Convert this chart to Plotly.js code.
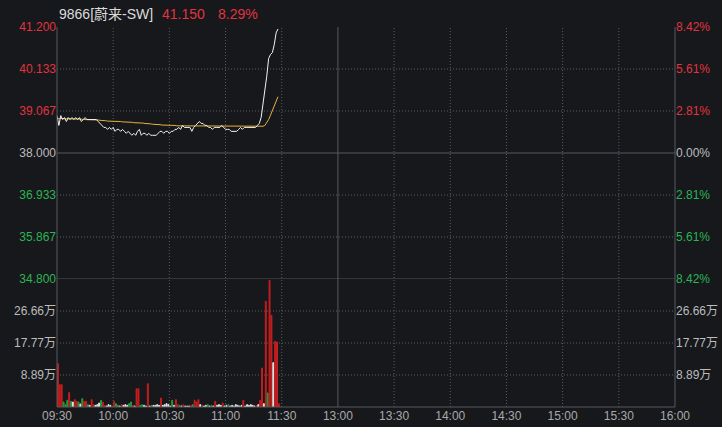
<!DOCTYPE html>
<html><head><meta charset="utf-8">
<script src="https://cdn.plot.ly/plotly-3.0.1.min.js"></script>
<style>html,body{margin:0;padding:0;background:#17181c;overflow:hidden}#chart{width:722px;height:427px;}</style>
</head><body><div id="chart"></div>
<script>
const stockName = "9866[蔚来-SW]";
const lastPrice = "41.150";
const changePct = "8.29%";
const prevClose = 38.0;
const timeTickMinutes = [0,30,60,90,120,150,180,210,240,270,300,330];
const timeLabels = ["09:30","10:00","10:30","11:00","11:30","13:00","13:30","14:00","14:30","15:00","15:30","16:00"];
const lunchMinute = 150;
const priceTicks = [41.2, 40.133, 39.067, 38.0, 36.933, 35.867, 34.8];
const priceTickLabels = ["41.200","40.133","39.067","38.000","36.933","35.867","34.800"];
const pctTickLabels = ["8.42%","5.61%","2.81%","0.00%","2.81%","5.61%","8.42%"];
const volTicks = [88900, 177700, 266600];
const volTickLabels = ["8.89万","17.77万","26.66万"];
const volMax = 355500;

const price = [
 38.95,38.70,38.95,38.85,38.90,38.80,38.90,38.85,38.90,38.85,
 38.90,38.85,38.90,38.80,38.85,38.90,38.85,38.85,38.85,38.85,
 38.85,38.85,38.80,38.75,38.70,38.65,38.65,38.60,38.65,38.60,
 38.65,38.55,38.60,38.60,38.55,38.60,38.55,38.50,38.55,38.50,
 38.45,38.50,38.45,38.55,38.60,38.45,38.50,38.50,38.45,38.50,
 38.45,38.45,38.45,38.45,38.50,38.55,38.55,38.50,38.55,38.55,
 38.50,38.55,38.55,38.60,38.60,38.65,38.60,38.70,38.65,38.65,
 38.65,38.65,38.55,38.65,38.70,38.75,38.80,38.75,38.75,38.70,
 38.70,38.65,38.65,38.60,38.65,38.65,38.65,38.65,38.70,38.65,
 38.60,38.60,38.60,38.55,38.55,38.55,38.55,38.60,38.65,38.60,
 38.65,38.65,38.65,38.65,38.65,38.65,38.65,38.70,38.75,38.90,
 39.25,39.50,39.95,40.40,40.50,40.55,40.75,41.05,41.15];

const avgPrice = [
 38.88,38.87,38.88,38.87,38.87,38.87,38.87,38.86,38.86,38.86,
 38.86,38.86,38.86,38.86,38.85,38.85,38.85,38.85,38.85,38.85,
 38.84,38.84,38.84,38.83,38.83,38.82,38.82,38.81,38.81,38.81,
 38.80,38.80,38.80,38.80,38.80,38.79,38.79,38.79,38.78,38.78,
 38.78,38.77,38.77,38.77,38.76,38.76,38.76,38.75,38.75,38.74,
 38.74,38.73,38.73,38.72,38.72,38.72,38.71,38.71,38.71,38.70,
 38.70,38.70,38.70,38.70,38.69,38.69,38.69,38.69,38.69,38.69,
 38.69,38.69,38.69,38.69,38.69,38.69,38.69,38.69,38.69,38.69,
 38.69,38.69,38.68,38.68,38.68,38.68,38.68,38.68,38.68,38.68,
 38.68,38.68,38.68,38.68,38.68,38.68,38.68,38.68,38.68,38.68,
 38.68,38.68,38.68,38.68,38.68,38.68,38.68,38.68,38.68,38.68,
 38.68,38.70,38.76,38.85,38.96,39.07,39.19,39.31,39.43];

const volume = [
 120000,62000,62000,14000,6500,18500,40000,15700,13900,20400,
 15700,13900,8300,23200,15700,15700,6500,4600,20400,6500,
 4600,6500,11100,18500,13900,4600,2800,6500,4600,2800,
 15700,9300,4600,2800,6500,4600,6500,4600,9300,13900,
 4600,2800,50900,50900,4600,6500,4600,2800,64800,2800,
 4600,4600,4600,6500,4600,25000,4600,6500,9300,6500,
 2800,18500,4600,20400,6500,4600,2800,6500,2800,2800,
 2800,4600,6500,18500,13900,20400,6500,4600,2800,4600,
 6500,2800,4600,2800,15700,4600,6500,4600,11100,2800,
 4600,6500,2800,4600,2800,6500,4600,2800,4600,18500,
 2800,6500,4600,6500,4600,2800,4600,6500,18500,108300,
 9300,293500,38900,351900,254700,123200,182400,180600,9300];

const volDir = [
 'r','r','r','g','g','g','r','g','w','r',
 'r','g','w','g','r','r','g','w','r','r',
 'w','w','w','g','r','r','w','w','w','r',
 'r','g','g','w','r','w','w','w','g','g',
 'r','w','r','r','g','g','w','w','r','w',
 'g','w','w','w','w','r','w','w','w','w',
 'w','g','w','r','r','g','w','r','w','w',
 'w','r','g','r','r','r','w','r','w','w',
 'g','w','g','w','r','w','w','w','r','w',
 'w','g','w','w','w','w','w','w','w','r',
 'w','w','w','w','w','w','r','w','r','r',
 'w','r','g','r','r','w','r','r','r'];

const C = {
  bg: '#17181c', red: '#e0343e', green: '#2bb552', gray: '#bcbcbc',
  grid: '#5a5c62', solid: '#56585e',
  barRed: '#c41e20', barGreen: '#1f9e3c', barWhite: '#e6e6e6',
  line: '#f2f2f2', avg: '#e8b23a'
};
const FONT = "'Liberation Sans', Arial, 'Noto Sans CJK SC', sans-serif";
const DOT = '1px,2px';

const minutes = price.map((_, i) => i);
const colorFor = i => i < 3 ? C.red : (i === 3 ? C.gray : C.green);
const priceText = priceTickLabels.map((t, i) => `<span style="color:${colorFor(i)}">${t}</span>`);
const pctText = pctTickLabels.map((t, i) => `<span style="color:${colorFor(i)}">${t}</span>`);
const barColors = volDir.map(d => d === 'r' ? C.barRed : d === 'g' ? C.barGreen : C.barWhite);

const volTop = 0.3368;

const traces = [
  {x: minutes, y: avgPrice, type: 'scatter', mode: 'lines', xaxis: 'x', yaxis: 'y',
   line: {color: C.avg, width: 1}, hoverinfo: 'skip', showlegend: false},
  {x: minutes, y: price, type: 'scatter', mode: 'lines', xaxis: 'x', yaxis: 'y',
   line: {color: C.line, width: 1}, hoverinfo: 'skip', showlegend: false},
  {x: minutes, y: volume, type: 'bar', xaxis: 'x', yaxis: 'y2', width: 0.5, offset: 0.25,
   marker: {color: barColors, line: {width: 1, color: barColors}}, hoverinfo: 'skip', showlegend: false},
  {x: [minutes[0]], y: [price[0]], type: 'scatter', mode: 'markers', xaxis: 'x', yaxis: 'y3',
   marker: {opacity: 0}, hoverinfo: 'skip', showlegend: false},
  {x: [minutes[0]], y: [volume[0]], type: 'scatter', mode: 'markers', xaxis: 'x', yaxis: 'y4',
   marker: {opacity: 0}, hoverinfo: 'skip', showlegend: false}
];

const shapes = [];
timeTickMinutes.forEach(m => {
  if (m === 0 || m === 330) return;
  shapes.push({type: 'line', xref: 'x', yref: 'paper', x0: m, x1: m, y0: 0, y1: 1, layer: 'below',
    line: {color: m === lunchMinute ? C.solid : C.grid, width: 1, dash: m === lunchMinute ? 'solid' : DOT}});
});
priceTicks.forEach(v => {
  if (v === priceTicks[0]) return;
  const solid = (v === prevClose || v === priceTicks[priceTicks.length - 1]);
  shapes.push({type: 'line', xref: 'paper', yref: 'y', x0: 0, x1: 1, y0: v, y1: v, layer: 'below',
    line: {color: solid ? C.solid : C.grid, width: 1, dash: solid ? 'solid' : DOT}});
});
volTicks.forEach(v => {
  shapes.push({type: 'line', xref: 'paper', yref: 'y2', x0: 0, x1: 1, y0: v, y1: v, layer: 'below',
    line: {color: C.grid, width: 1, dash: DOT}});
});
shapes.push({type: 'line', xref: 'paper', yref: 'paper', x0: 0, x1: 0, y0: 0, y1: 1, line: {color: C.solid, width: 1}});
shapes.push({type: 'line', xref: 'paper', yref: 'paper', x0: 1, x1: 1, y0: 0, y1: 1, line: {color: C.solid, width: 1}});
shapes.push({type: 'line', xref: 'paper', yref: 'paper', x0: 0, x1: 1, y0: 0, y1: 0, line: {color: C.solid, width: 1}});

const axisFont = {family: FONT, size: 12, color: C.gray};

const layout = {
  width: 722, height: 427,
  paper_bgcolor: C.bg, plot_bgcolor: C.bg,
  margin: {l: 57, r: 47, t: 27, b: 20, pad: 0},
  showlegend: false,
  font: {family: FONT, size: 12, color: C.gray},
  xaxis: {domain: [0, 1], range: [0, 330], anchor: 'y2', tickmode: 'array',
    tickvals: timeTickMinutes, ticktext: timeLabels, showgrid: false, zeroline: false,
    showline: false, ticks: '', tickfont: {family: FONT, size: 12, color: '#a9a9a9'}, fixedrange: true},
  yaxis: {domain: [volTop, 1], range: [priceTicks[priceTicks.length - 1], priceTicks[0]], anchor: 'x',
    tickmode: 'array', tickvals: priceTicks, ticktext: priceText, showgrid: false, zeroline: false,
    showline: false, ticks: '', tickfont: axisFont, side: 'left'},
  yaxis3: {domain: [volTop, 1], range: [priceTicks[priceTicks.length - 1], priceTicks[0]], anchor: 'x',
    overlaying: 'y', side: 'right', tickmode: 'array', tickvals: priceTicks, ticktext: pctText,
    showgrid: false, zeroline: false, showline: false, ticks: '', tickfont: axisFont},
  yaxis2: {domain: [0, volTop], range: [0, volMax], anchor: 'x', tickmode: 'array',
    tickvals: volTicks, ticktext: volTickLabels, showgrid: false, zeroline: false, showline: false,
    ticks: '', tickfont: axisFont},
  yaxis4: {domain: [0, volTop], range: [0, volMax], anchor: 'x', overlaying: 'y2', side: 'right',
    tickmode: 'array', tickvals: volTicks, ticktext: volTickLabels, showgrid: false, zeroline: false,
    showline: false, ticks: '', tickfont: axisFont},
  bargap: 0,
  shapes: shapes,
  annotations: [
    {xref: 'paper', yref: 'paper', x: 0, y: 1, xanchor: 'left', yanchor: 'middle', xshift: 0, yshift: 13,
     showarrow: false, text: stockName, font: {family: FONT, size: 14, color: '#dcdcdc'}},
    {xref: 'paper', yref: 'paper', x: 0, y: 1, xanchor: 'left', yanchor: 'middle', xshift: 103, yshift: 13,
     showarrow: false, text: lastPrice, font: {family: FONT, size: 14, color: C.red}},
    {xref: 'paper', yref: 'paper', x: 0, y: 1, xanchor: 'left', yanchor: 'middle', xshift: 159, yshift: 13,
     showarrow: false, text: changePct, font: {family: FONT, size: 14, color: C.red}}
  ]
};

Plotly.newPlot('chart', traces, layout, {staticPlot: true, displayModeBar: false});
</script></body></html>
